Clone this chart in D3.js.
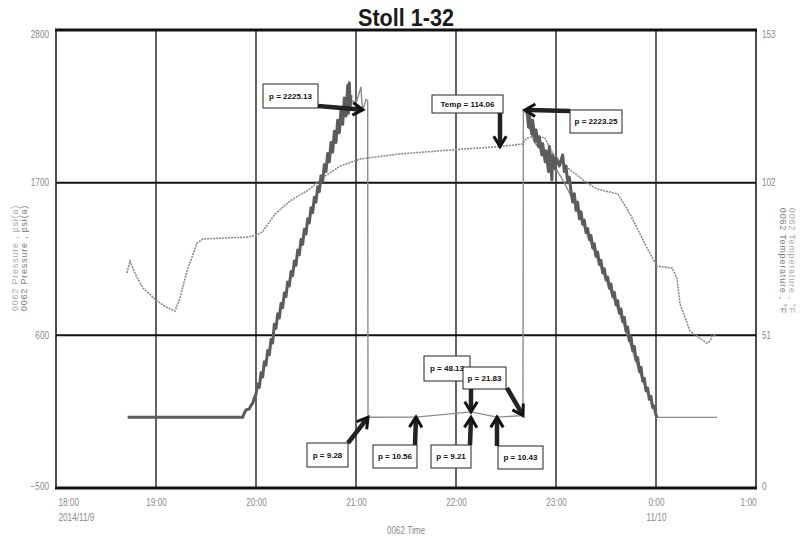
<!DOCTYPE html>
<html><head><meta charset="utf-8">
<script src="https://cdn.jsdelivr.net/npm/d3@7"></script>
<style>
html,body{margin:0;padding:0;background:#fff;}
svg{display:block;}
</style></head>
<body>
<svg id="chart" width="809" height="539"></svg>
<script>
// ---------- data (minutes after 2014/11/9 18:00, value) ----------
const title = "Stoll 1-32";
const xTickMinutes = [0, 60, 120, 180, 240, 300, 360, 420];
const xTickLabels = ["18:00", "19:00", "20:00", "21:00", "22:00", "23:00", "0:00", "1:00"];
const xSubLabels = ["2014/11/9", "", "", "", "", "", "11/10", ""];
const xTitle = "0062 Time";
const leftTicks = [2800, 1700, 600, -500];
const rightTicks = [153, 102, 51, 0];
const leftTitles = ["0062 Pressure , psi(a)", "0062 Pressure , psi(a)"];
const rightTitles = ["0062 Temperature , °F", "0062 Temperature , °F"];

// gauge 1 pressure (psi)
const pressure1 = [
 [43,9],[112,9],[113,40],[114,62],[116,70],[117,95],[118,110],[119,150],[120,177],
 [121,250],[122,225],[123,330],[124,300],[125,410],[126,385],[127,490],[128,460],[129,570],[130,545],
 [131,680],[132,650],[133,755],[134,725],[135,830],[136,800],[137,905],[138,880],[139,985],[140,955],
 [141,1060],[142,1030],[143,1135],[144,1105],[145,1215],[146,1180],[147,1290],[148,1255],[149,1365],[150,1330],
 [151,1440],[152,1410],[153,1520],[154,1485],[155,1595],[156,1560],[157,1670],[158,1635],[159,1750],[160,1710],
 [161,1830],[162,1780],[163,1910],[164,1850],[165,1990],[166,1920],[167,2070],[168,1990],[169,2150],[170,2060],
 [171,2230],[172,2120],[173,2310],[174,2180],[175,2400],[175.5,2200],[176,2420],[176.5,2250],[177,2330]
];
const pressure1b = [
 [282.6,2231],[283.5,2100],[284,2190],[285.5,2050],[286,2150],[287.5,2000],[288,2080],[289.5,1960],[290,2030],
 [291.5,1900],[292,1980],[293.5,1850],[294,1930],[295.5,1780],[296,1960],[297.5,1720],[298,1900],[299.5,1800],
 [300,1880],[302,1820],[304,1900],[305,1780],[306,1820],[307,1700],[308,1740],[309,1640],[310,1560],[311,1620],
 [312,1500],[313,1560],[314,1440],[315,1490],[316,1400],[317,1430],[318,1340],[319,1370],[320,1290],[321,1320],
 [322,1230],[323,1260],[324,1170],[325,1200],[326,1110],[327,1140],[328,1050],[329,1080],[330,1000],[331,1020],
 [332,940],[333,970],[334,880],[335,910],[336,820],[337,850],[338,760],[339,790],[340,700],[341,730],
 [342,630],[343,660],[344,560],[345,590],[346,490],[347,520],[348,420],[349,440],[350,340],[351,370],
 [352,270],[353,290],[354,200],[355,220],[356,140],[357,160],[358,80],[359,90],[360,25],[360.6,9]
];
// gauge 2 pressure (psi)
const pressure2 = [
 [176.5,2250],[178,2290],[180,2270],[181.5,2330],[183,2390],[183.5,2280],[184.2,2225.13],[186,2300],[187,2290],
 [187.2,9.28],[216,10.56],[249,48.13],[264.6,10.43],[280.2,21.83],[280.4,2223.25],[282,2200],[284,2100],
 [287,1990],[290,1950],[295,1880],[300,1800],[305,1700],[310,1580],[320,1290],[330,1000],[340,700],[350,340],
 [360,25],[360.6,9],[396.6,9]
];
// temperature (°F)
const temperature = [
 [42.6,71.8],[44.4,75.8],[48,71],[52.2,66.8],[60.6,62.5],[66,60.5],[71.4,59.1],[74.4,63.5],[78.6,72.5],
 [84.6,81.8],[88.2,83.2],[100,83.5],[114.6,83.8],[120.6,84.5],[124.2,85.8],[131.4,91.5],[140.4,95.9],
 [152.4,99.9],[161.4,104.2],[170.4,107.5],[182.4,109.9],[206.4,111.6],[236.4,112.9],[266.4,114.06],
 [279.6,114.9],[282.6,116.9],[287.4,117.6],[293.4,116.9],[298.2,111.6],[304.2,108.2],[318.6,101.9],
 [324.6,99.9],[337.2,98.2],[344.4,91.5],[354.6,80.2],[360.6,74.1],[369.6,73.5],[372.6,70.1],[374.4,61.5],
 [380.4,52.4],[390.6,48.4],[392.4,49.1],[393.6,50.8],[396.6,51.4]
];
// annotations: text, tip minute, tip value, axis
const annoText = ["p = 2225.13","Temp = 114.06","p = 2223.25","p = 9.28","p = 10.56","p = 9.21","p = 10.43","p = 48.13","p = 21.83"];
const annoTip = [[184.2,2225.13,"L"],[266.4,114.06,"R"],[281.4,2223.25,"L"],[187.2,9.28,"L"],[216,10.56,"L"],[249,9.21,"L"],[264.6,10.43,"L"],[249,48.13,"L"],[280.2,21.83,"L"]];
// layout of annotation boxes (pixel box: x,y,w,h; arrow tail x,y)
const annoBox = [[263,84,55,24,318,106],[432,95,71,18,500,113],[570,110,52,23,570,111],[307,443,41,24,348,443],
 [373,445,44,23,415,445],[431,445,40,23,470,445],[498,446,45,23,497,446],[424,356,46,25,471,381],[463,367,43,22,507,388]];

// ---------- drawing ----------
const W = 809, H = 539;
const L = 56, R = 756, TOP = 30, BOT = 488;
const SX = 0.82; // horizontal squeeze to imitate a narrow face
const FONT = "Liberation Sans, Arial, sans-serif";
const base = new Date(2014, 10, 9, 18, 0);
const T = m => new Date(base.getTime() + m * 60000);
const x = d3.scaleTime().domain([T(0), T(420)]).range([L, R]);
const yL = d3.scaleLinear().domain([-500, 2800]).range([BOT, TOP]);
const yR = d3.scaleLinear().domain([0, 153]).range([BOT, TOP]);
const svg = d3.select("#chart");
svg.append("rect").attr("width", W).attr("height", H).attr("fill", "#fff");

function narrowText(sel, px, py, s, size, fill, anchor, weight, sx) {
  return sel.append("text").attr("transform", `translate(${px},${py}) scale(${sx || SX},1)`)
    .attr("text-anchor", anchor || "middle").attr("font-family", FONT).attr("font-size", size)
    .attr("font-weight", weight || "normal").attr("fill", fill).text(s);
}

// title
narrowText(svg, 406, 26, title, 24, "#1a1a1a", "middle", "bold", 0.9);

// grid
const g = svg.append("g");
g.selectAll("line.v").data(xTickMinutes.slice(1, -1)).enter().append("line")
  .attr("x1", d => x(T(d))).attr("x2", d => x(T(d))).attr("y1", TOP).attr("y2", BOT)
  .attr("stroke", "#111").attr("stroke-width", 1.3);
g.selectAll("line.h").data(leftTicks.slice(1, -1)).enter().append("line")
  .attr("x1", L).attr("x2", R).attr("y1", d => yL(d)).attr("y2", d => yL(d))
  .attr("stroke", "#111").attr("stroke-width", 2);

// series
const line = (ys) => d3.line().x(d => x(T(d[0]))).y(d => ys(d[1]));
svg.append("clipPath").attr("id","pc").append("rect").attr("x",L).attr("y",TOP).attr("width",R-L).attr("height",BOT-TOP);
const plot = svg.append("g").attr("clip-path","url(#pc)");
plot.append("path").datum(temperature).attr("d", line(yR)).attr("fill","none")
  .attr("stroke","#8a8a8a").attr("stroke-width",1.6).attr("stroke-dasharray","2,1");
plot.append("path").datum(pressure2).attr("d", line(yL)).attr("fill","none")
  .attr("stroke","#8c8c8c").attr("stroke-width",1.4);
plot.append("path").datum(pressure1).attr("d", line(yL)).attr("fill","none")
  .attr("stroke","#5c5c5c").attr("stroke-width",3).attr("stroke-linejoin","round");
plot.append("path").datum(pressure1b).attr("d", line(yL)).attr("fill","none")
  .attr("stroke","#5c5c5c").attr("stroke-width",3).attr("stroke-linejoin","round");

// frame
svg.append("line").attr("x1",L).attr("x2",L).attr("y1",TOP).attr("y2",BOT).attr("stroke","#111").attr("stroke-width",1.5);
svg.append("line").attr("x1",R).attr("x2",R).attr("y1",TOP).attr("y2",BOT).attr("stroke","#111").attr("stroke-width",1.5);
svg.append("line").attr("x1",L-1).attr("x2",R+1).attr("y1",TOP).attr("y2",TOP).attr("stroke","#111").attr("stroke-width",3);
svg.append("line").attr("x1",L-1).attr("x2",R+1).attr("y1",BOT).attr("y2",BOT).attr("stroke","#111").attr("stroke-width",3);

// axes
const axL = svg.append("g").attr("transform",`translate(${L},0)`)
  .call(d3.axisLeft(yL).tickValues(leftTicks).tickSize(0).tickPadding(0).tickFormat(d3.format("d")));
const axR = svg.append("g").attr("transform",`translate(${R},0)`)
  .call(d3.axisRight(yR).tickValues(rightTicks).tickSize(0).tickPadding(0).tickFormat(d3.format("d")));
axL.select(".domain").remove();
axR.select(".domain").remove();
axL.selectAll("text").attr("x", -7 / SX).attr("transform", `scale(${SX},1)`)
  .attr("font-family", FONT).attr("font-size", 10).attr("fill", "#888");
axR.selectAll("text").attr("x", 6 / SX).attr("transform", `scale(${SX},1)`)
  .attr("font-family", FONT).attr("font-size", 10).attr("fill", "#888");
axL.selectAll(".tick").filter(d => d === 2800).select("text").attr("dy","0.75em");
axR.selectAll(".tick").filter(d => d === 153).select("text").attr("dy","0.75em");
axL.selectAll(".tick").filter(d => d === -500).select("text").attr("dy","0.1em");
axR.selectAll(".tick").filter(d => d === 0).select("text").attr("dy","0.1em");

const axB = svg.append("g").attr("transform",`translate(0,${BOT})`)
  .call(d3.axisBottom(x).tickValues(xTickMinutes.map(T)).tickSize(0).tickPadding(11)
    .tickFormat((d, i) => xTickLabels[i]));
axB.select(".domain").remove();
axB.selectAll(".tick").each(function(d, i) {
  const tk = d3.select(this);
  const t = tk.select("text");
  const anchor = i === 0 ? "start" : (i === xTickLabels.length - 1 ? "end" : "middle");
  const dx = i === 0 ? 2 : 0;
  t.attr("text-anchor", anchor).attr("x", dx / SX).attr("transform", `scale(${SX},1)`)
    .attr("font-family", FONT).attr("font-size", 10).attr("fill", "#888");
  if (xSubLabels[i]) {
    tk.append("text").attr("transform", `scale(${SX},1)`).attr("x", dx / SX).attr("y", 33)
      .attr("text-anchor", anchor).attr("font-family", FONT).attr("font-size", 10).attr("fill", "#888")
      .text(xSubLabels[i]);
  }
});
narrowText(svg, 406, 534, xTitle, 10, "#888");

// axis titles
const lt = [[15,"#aaa"],[24,"#7a7a7a"]];
leftTitles.forEach((s, i) => {
  svg.append("text").attr("transform",`translate(${lt[i][0]},258) rotate(-90)`).attr("text-anchor","middle")
    .attr("font-family",FONT).attr("font-size",9).attr("letter-spacing",0.8)
    .attr("dy","0.35em").attr("fill",lt[i][1]).text(s);
});
const rt = [[792,"#aaa"],[783,"#7a7a7a"]];
rightTitles.forEach((s, i) => {
  svg.append("text").attr("transform",`translate(${rt[i][0]},261) rotate(90)`).attr("text-anchor","middle")
    .attr("font-family",FONT).attr("font-size",9).attr("letter-spacing",0.8)
    .attr("dy","0.35em").attr("fill",rt[i][1]).text(s);
});

// annotations
const an = svg.append("g");
function arrow(x1, y1, x2, y2) {
  const ang = Math.atan2(y2 - y1, x2 - x1), len = 12, sp = 0.55;
  an.append("line").attr("x1",x1).attr("y1",y1).attr("x2",x2 - Math.cos(ang)*3).attr("y2",y2 - Math.sin(ang)*3)
    .attr("stroke","#222").attr("stroke-width",4.5);
  const p1 = [x2 - len*Math.cos(ang - sp), y2 - len*Math.sin(ang - sp)];
  const p2 = [x2 - len*Math.cos(ang + sp), y2 - len*Math.sin(ang + sp)];
  an.append("path").attr("d",`M${p1}L${x2},${y2}L${p2}`).attr("fill","none")
    .attr("stroke","#111").attr("stroke-width",3).attr("stroke-linejoin","miter");
}
annoText.forEach((txt, i) => {
  const [m, v, ax] = annoTip[i];
  const tx = x(T(m)), ty = (ax === "L" ? yL : yR)(v);
  const [bx, by, bw, bh, ax0, ay0] = annoBox[i];
  arrow(ax0, ay0, tx, ty);
  an.append("rect").attr("x",bx).attr("y",by).attr("width",bw).attr("height",bh)
    .attr("fill","#fff").attr("stroke","#222").attr("stroke-width",1);
  an.append("text").attr("x",bx + bw/2).attr("y",by + bh/2).attr("dy","0.35em").attr("text-anchor","middle")
    .attr("font-family",FONT).attr("font-weight","bold").attr("font-size",8)
    .attr("fill","#111").text(txt);
});
</script>
</body></html>
